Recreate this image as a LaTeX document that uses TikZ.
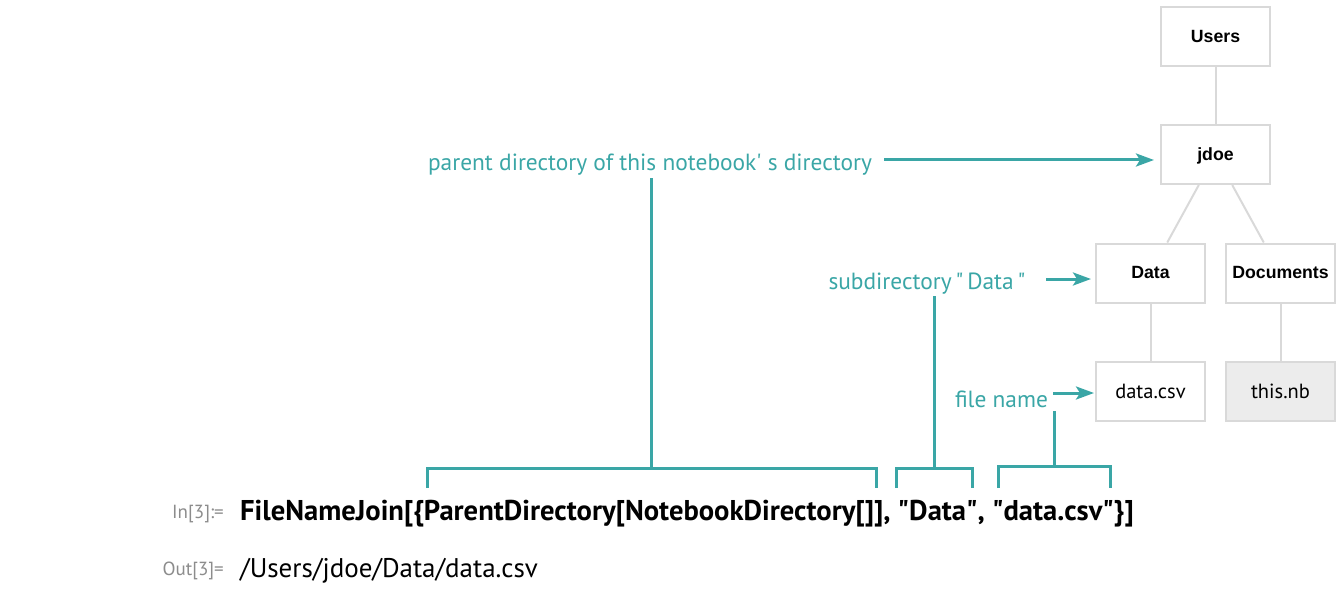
\documentclass[tikz,border=0pt]{standalone}
\usepackage{fontspec}
\setmainfont{PT Sans}
\newfontfamily\treefont{Liberation Sans}
\usetikzlibrary{arrows.meta}
\definecolor{calloutteal}{HTML}{3AA6A6}
\definecolor{boxgray}{HTML}{D9D9D9}
\definecolor{nbgray}{HTML}{ECECEC}
\definecolor{promptgray}{HTML}{8C8C8C}

\begin{document}
\begin{tikzpicture}[x=1pt,y=-1pt,
    dirbox/.style={draw=boxgray,line width=2pt,minimum width=109pt,minimum height=59pt,inner sep=0pt,
      text depth=1pt,font=\treefont\bfseries\fontsize{17.7}{20}\selectfont},
    filebox/.style={dirbox,font=\fontsize{20.5}{22}\selectfont},
    treeline/.style={draw=boxgray,line width=2pt},
    callout/.style={text=calloutteal,inner sep=0pt,font=\fontsize{23.4}{27}\selectfont},
    pointer/.style={draw=calloutteal,line width=3pt,-{Stealth[length=18pt,width=13pt,inset=4pt]}},
    bracket/.style={draw=calloutteal,line width=3pt},
    prompt/.style={text=promptgray,inner sep=0pt,font=\fontsize{19}{22}\selectfont}]
  \useasboundingbox (0,0) rectangle (1340,596);
  % directory tree
  \node[dirbox] (users) at (1215.5,36.5) {Users};
  \node[dirbox] (jdoe) at (1215.5,154.5) {jdoe};
  \node[dirbox] (data) at (1150.5,273) {Data};
  \node[dirbox] (documents) at (1280.5,273) {Documents};
  \node[filebox] (datacsv) at (1150.5,391.5) {data.csv};
  \node[filebox,fill=nbgray] (thisnb) at (1280.5,391.5) {this.nb};
  \draw[treeline] (users) -- (jdoe);
  \draw[treeline] (jdoe) -- (data);
  \draw[treeline] (jdoe) -- (documents);
  \draw[treeline] (data) -- (datacsv);
  \draw[treeline] (documents) -- (thisnb);
  % input and output
  \node[prompt,anchor=base east] (inlbl) at (224,518) {In[3]:=};
  \node[inner sep=0pt,anchor=base west,font=\bfseries\fontsize{28.6}{32}\selectfont] (code) at (240,520)
    {FileNameJoin[\{ParentDirectory[NotebookDirectory[]], \textquotedbl Data\textquotedbl, \textquotedbl data.csv\textquotedbl\}]};
  \node[prompt,anchor=base east] (outlbl) at (224,575) {Out[3]=};
  \node[inner sep=0pt,anchor=base west,font=\fontsize{27}{30}\selectfont] (result) at (240,577)
    {/Users/jdoe/Data/data.csv};
  % callouts
  \node[callout,anchor=base] (parentlbl) at (650,171) {parent directory of this notebook\textquotesingle\ s directory};
  \node[callout,anchor=base] (subdirlbl) at (927,289) {subdirectory\,\textquotedbl\,Data\,\textquotedbl};
  \node[callout,anchor=base] (filelbl) at (1001.5,407) {file name};
  \coordinate (parentfrom) at (884,160);
  \coordinate (subdirfrom) at (1046,279);
  \coordinate (filefrom) at (1053,393);
  \draw[pointer,shorten >=6pt] (parentfrom) -- (parentfrom -| jdoe.west);
  \draw[pointer,shorten >=4pt] (subdirfrom) -- (subdirfrom -| data.west);
  \draw[pointer,shorten >=1pt] (filefrom) -- (filefrom -| datacsv.west);
  \coordinate (parentmid) at (651,468);
  \coordinate (subdirmid) at (934,468);
  \coordinate (filemid) at (1054,466);
  \draw[bracket] (427,488) |- (876,468) -- (876,488);
  \draw[bracket] (896,488) |- (972,468) -- (972,488);
  \draw[bracket] (998,488) |- (1110,466) -- (1110,488);
  \draw[bracket] (parentmid) -- ([yshift=-2pt]parentmid |- parentlbl.south);
  \draw[bracket] (subdirmid) -- ([yshift=-2pt]subdirmid |- subdirlbl.south);
  \draw[bracket] (filemid) -- (1054,411);
\end{tikzpicture}
\end{document}
